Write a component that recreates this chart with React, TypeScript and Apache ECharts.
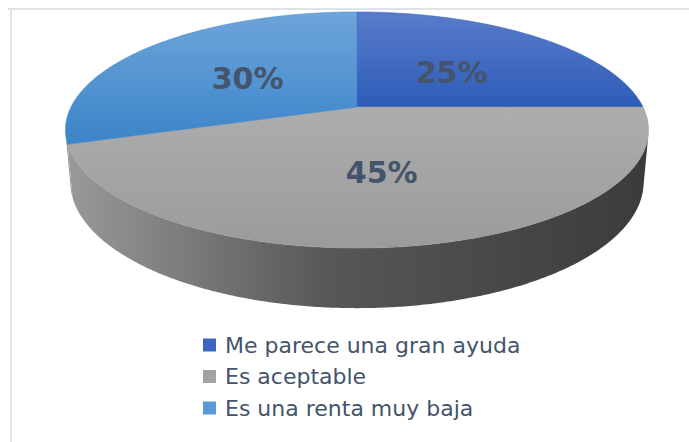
import React, { useEffect, useRef } from "react";
import * as echarts from "echarts";

// ---- data ----
const categories = ["Me parece una gran ayuda", "Es aceptable", "Es una renta muy baja"];
const values = [25, 45, 30];
const valueLabels = ["25%", "45%", "30%"];

// ---- styles ----
const topColors = [
  ["#5a7cca", "#2d5cb8"],
  ["#adadad", "#9b9b9b"],
  ["#6ea5da", "#3b84c9"],
];
const legendColors = ["#3d66c3", "#a3a3a3", "#5b9bd5"];
const sideStops = [
  { offset: 0, color: "#9a9a9a" },
  { offset: 0.45, color: "#575757" },
  { offset: 1, color: "#3b3b3b" },
];
const labelColor = "#44546a";

// ---- perspective camera for the 3D pie (unit radius disk) ----
const U0 = 357;
const V0 = 107;
const PHI = (23.4 * Math.PI) / 180;
const D0 = 4.71;
const FOCAL = 1347;
const THICK = 0.197;
const SN = Math.sin(PHI);
const CS = Math.cos(PHI);
const CAM_H = D0 * SN;
const CAM_D = D0 * CS;

function project(X: number, Y: number, Z: number): number[] {
  const depth = -(Y - CAM_H) * SN - (Z - CAM_D) * CS;
  const yc = (Y - CAM_H) * CS - (Z - CAM_D) * SN;
  return [U0 + (FOCAL * X) / depth, V0 - (FOCAL * yc) / depth];
}
function rim(deg: number, Y: number, r = 1): number[] {
  const a = (deg * Math.PI) / 180;
  return project(r * Math.cos(a), Y, -r * Math.sin(a));
}

const total = values.reduce((s, v) => s + v, 0);
const cumBefore = values.map((_, i) => values.slice(0, i).reduce((s, v) => s + v, 0));

const SIL = (Math.asin(1 / CAM_D) * 180) / Math.PI;
const VIS_LO = -180 + SIL;
const VIS_HI = -SIL;

function makeRenderItem(idx: number) {
  return (params: any, api: any) => {
    const cum = api.value(0);
    const val = api.value(1);
    const tot = api.value(2);
    const a0 = 90 - (360 * cum) / tot;
    const a1 = 90 - (360 * (cum + val)) / tot;
    const children: any[] = [];

    // side wall (front-facing part only)
    const s0 = Math.max(a1, VIS_LO);
    const s1 = Math.min(a0, VIS_HI);
    if (s1 > s0) {
      const n = Math.max(4, Math.ceil((s1 - s0) * 2));
      const pts: number[][] = [];
      for (let k = 0; k <= n; k++) pts.push(rim(s0 + ((s1 - s0) * k) / n, 0));
      for (let k = n; k >= 0; k--) pts.push(rim(s0 + ((s1 - s0) * k) / n, -THICK));
      children.push({
        type: "polygon",
        shape: { points: pts },
        style: {
          fill: new echarts.graphic.LinearGradient(65, 0, 649, 0, sideStops, true),
          stroke: "none",
        },
        z2: 1,
      });
    }

    // top face
    const n = Math.max(8, Math.ceil((a0 - a1) * 2));
    const top: number[][] = [project(0, 0, 0)];
    for (let k = 0; k <= n; k++) top.push(rim(a0 - ((a0 - a1) * k) / n, 0));
    children.push({
      type: "polygon",
      shape: { points: top },
      style: {
        fill: new echarts.graphic.LinearGradient(0, 0, 0, 1, [
          { offset: 0, color: topColors[idx][0] },
          { offset: 1, color: topColors[idx][1] },
        ]),
        stroke: topColors[idx][1],
        lineWidth: 0.5,
      },
      z2: 2,
    });

    // label
    const mid = (a0 + a1) / 2;
    const lp = rim(mid, 0, 0.5);
    children.push({
      type: "text",
      x: lp[0],
      y: lp[1] + 3,
      style: {
        text: valueLabels[idx],
        fill: labelColor,
        fontFamily: "DejaVu Sans",
        fontWeight: "bold",
        fontSize: 30,
        align: "center",
        verticalAlign: "middle",
      },
      z2: 10,
    });

    return { type: "group", children };
  };
}

export default function App() {
  const ref = useRef<HTMLDivElement>(null);
  useEffect(() => {
    if (!ref.current) return;
    const chart = echarts.init(ref.current, undefined, { renderer: "svg" });
    const series = categories.map((name, i) => ({
      type: "custom",
      name,
      coordinateSystem: "none",
      itemStyle: { color: legendColors[i] },
      data: [[cumBefore[i], values[i], total]],
      renderItem: makeRenderItem(i),
      silent: true,
    }));
    chart.setOption({
      animation: false,
      backgroundColor: "#ffffff",
      legend: {
        data: categories,
        orient: "vertical",
        left: 203,
        top: 333,
        padding: 0,
        icon: "rect",
        itemWidth: 13,
        itemHeight: 13,
        itemGap: 7.5,
        selectedMode: false,
        textStyle: {
          fontFamily: "DejaVu Sans",
          fontSize: 22,
          color: labelColor,
          lineHeight: 24,
          padding: [0, 0, 0, 4],
        },
      },
      graphic: [
        {
          type: "line",
          shape: { x1: 8, y1: 9, x2: 689, y2: 9 },
          style: { stroke: "#dfe3e8", lineWidth: 2 },
        },
        {
          type: "line",
          shape: { x1: 11, y1: 8, x2: 11, y2: 442 },
          style: { stroke: "#dfe3e8", lineWidth: 2 },
        },
      ],
      series,
    });
    return () => chart.dispose();
  }, []);
  return (
    <div
      ref={ref}
      style={{ position: "fixed", left: 0, top: 0, width: 689, height: 442 }}
    />
  );
}
